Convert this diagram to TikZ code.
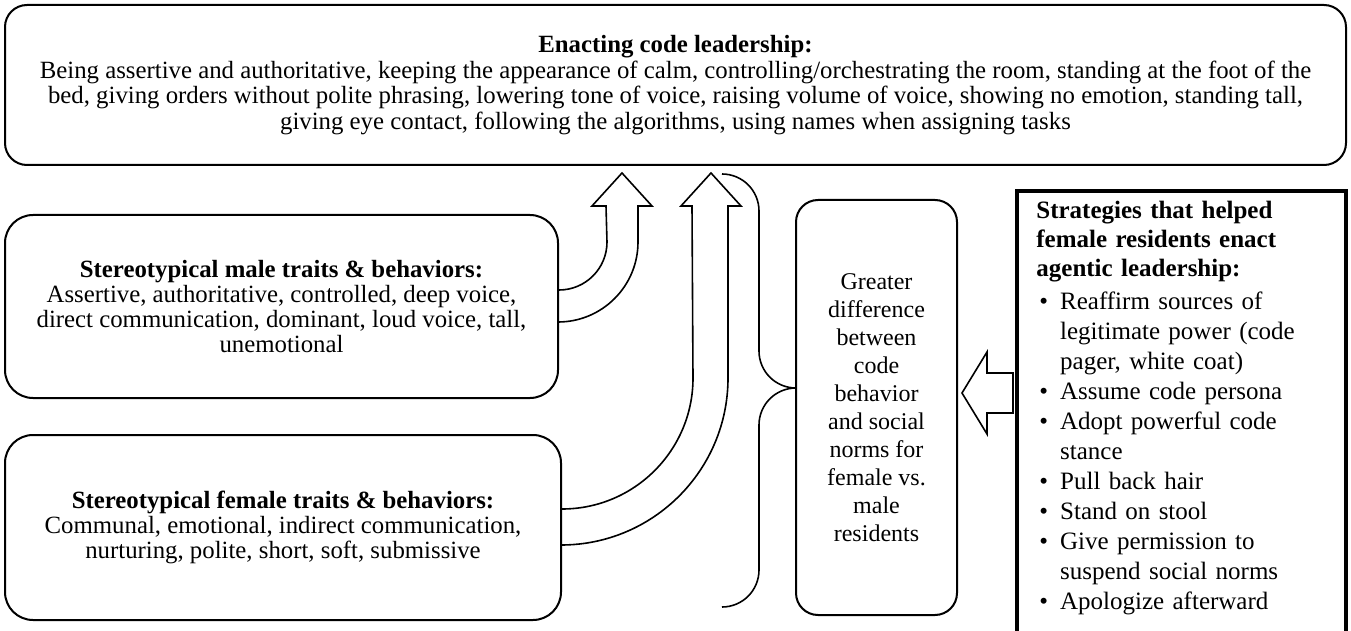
\documentclass[tikz,border=0pt]{standalone}
\usepackage{fontspec}
\setmainfont{Liberation Serif}

\begin{document}
\begin{tikzpicture}[x=0.5pt,y=-0.5pt,
   box/.style={draw,line width=1pt,rounded corners=11pt,align=center,inner sep=0pt,
      font=\fontsize{12.4}{12.75}\selectfont},
   softbox/.style={box,rounded corners=14pt,font=\fontsize{12.4}{12.6}\selectfont},
   stratbox/.style={anchor=north west,align=left,inner xsep=9.5pt,inner ysep=5pt,
      text width=145pt,font=\fontsize{12.5}{14.5}\selectfont},
   blockarrow/.style={line width=0.8pt,line join=miter},
   brace/.style={line width=0.8pt,rounded corners=18.5pt}]
   \useasboundingbox (0,0) rectangle (1351,631);

   \node[box,minimum width=670.5pt,minimum height=80pt] (code) at (675.5,85)
      {\textbf{Enacting code leadership:}\\
       Being assertive and authoritative, keeping the appearance of calm, controlling/orchestrating the room, standing at the foot of the\\
       bed, giving orders without polite phrasing, lowering tone of voice, raising volume of voice, showing no emotion, standing tall,\\
       giving eye contact, following the algorithms, using names when assigning tasks};
   \node[softbox,minimum width=276.5pt,minimum height=91.5pt] (male) at (281.5,306.5)
      {\textbf{Stereotypical male traits \& behaviors:}\\
       Assertive, authoritative, controlled, deep voice,\\
       direct communication, dominant, loud voice, tall,\\
       unemotional};
   \node[softbox,minimum width=278pt,minimum height=92.5pt] (female) at (283,527.5)
      {\textbf{Stereotypical female traits \& behaviors:}\\
       Communal, emotional, indirect communication,\\
       nurturing, polite, short, soft, submissive};
   \node[box,font=\fontsize{12}{14}\selectfont,minimum width=80.5pt,minimum height=207.5pt] (gap) at (876.5,407.5)
      {Greater\\ difference\\ between\\ code\\ behavior\\ and social\\ norms for\\ female vs.\\ male\\ residents};
   \node[stratbox] (help) at (1017,191)
      {\textbf{Strategies that helped}\\
       \textbf{female residents enact}\\
       \textbf{agentic leadership:}\\[2pt]
       \renewcommand{\arraystretch}{1.035}%
       \begin{tabular}{@{}l@{\hspace{6pt}}l@{}}
          \hspace{1.5pt}\textbullet & Reaffirm sources of\\
           & legitimate power (code\\
           & pager, white coat)\\
          \hspace{1.5pt}\textbullet & Assume code persona\\
          \hspace{1.5pt}\textbullet & Adopt powerful code\\
           & stance\\
          \hspace{1.5pt}\textbullet & Pull back hair\\
          \hspace{1.5pt}\textbullet & Stand on stool\\
          \hspace{1.5pt}\textbullet & Give permission to\\
           & suspend social norms\\
          \hspace{1.5pt}\textbullet & Apologize afterward
       \end{tabular}};
   \draw[line width=2pt] (help.north west) rectangle (help.north east |- 0,650);

   \draw[blockarrow] (male.east |- 0,290) arc[start angle=90,end angle=0,radius=48]
      -- (606,206) -- (592,206) -- (622,173) -- (652,206) -- (638,206) -- (638,242)
      arc[start angle=0,end angle=90,radius=80];
   \draw[blockarrow] (female.east |- 0,509) arc[start angle=90,end angle=0,radius=131]
      -- (692,206) -- (681,206) -- (711,173) -- (741,206) -- (728,206) -- (728,378)
      arc[start angle=0,end angle=90,radius=167];
   \draw[blockarrow] (help.west |- 0,373) ++(-4,0) -- (987,373) -- (987,352) -- (962,393)
      -- (987,434) -- (987,413) -- (1013,413) -- cycle;

   \draw[brace] (722,174) -- (759,174) -- (759,388) -- (gap.west |- 0,388);
   \draw[brace] (gap.west |- 0,388) -- (759,388) -- (759,607) -- (722,607);
\end{tikzpicture}
\end{document}
